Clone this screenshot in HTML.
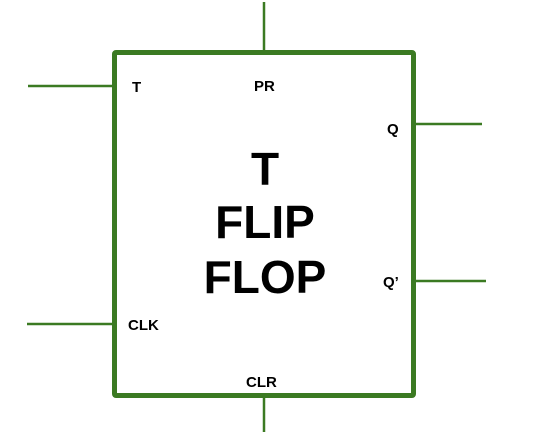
<!DOCTYPE html>
<html><head><style>
html,body{margin:0;padding:0;background:#fff;}
svg{display:block;}
text{font-family:"Liberation Sans",Arial,sans-serif;font-weight:bold;fill:#000;}
</style></head><body>
<svg width="560" height="432" viewBox="0 0 560 432">
<g stroke="#3b7a22" fill="none">
<rect x="114.5" y="52.5" width="299" height="343" stroke-width="5" rx="1.5"/>
<line x1="264" y1="2" x2="264" y2="50" stroke-width="2.5"/>
<line x1="28" y1="86" x2="112" y2="86" stroke-width="2.5"/>
<line x1="416" y1="124" x2="482" y2="124" stroke-width="2.5"/>
<line x1="416" y1="281" x2="486" y2="281" stroke-width="2.5"/>
<line x1="27" y1="324" x2="112" y2="324" stroke-width="2.5"/>
<line x1="264" y1="398" x2="264" y2="432" stroke-width="2.5"/>
</g>
<text x="132" y="92" font-size="15">T</text>
<text x="254" y="91" font-size="15">PR</text>
<text x="387" y="134" font-size="15">Q</text>
<text x="383" y="287" font-size="15">Q’</text>
<text x="128" y="330" font-size="15">CLK</text>
<text x="246" y="387" font-size="15">CLR</text>
<g font-size="46" text-anchor="middle">
<text x="265" y="185">T</text>
<text x="265" y="238">FLIP</text>
<text x="265" y="293">FLOP</text>
</g>
</svg>
</body></html>
